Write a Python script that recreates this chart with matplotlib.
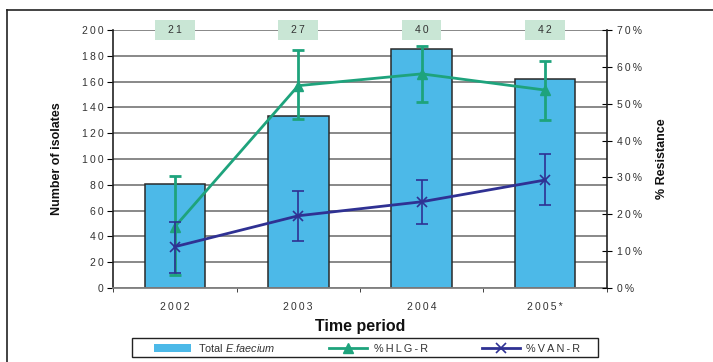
import matplotlib
matplotlib.use("Agg")
import matplotlib.pyplot as plt
from matplotlib.patches import Patch, Rectangle
from matplotlib.lines import Line2D
from matplotlib.ticker import MultipleLocator, FixedLocator
import numpy as np

plt.rcParams['font.family'] = ['Liberation Sans', 'DejaVu Sans']
plt.rcParams['mathtext.fontset'] = 'custom'
plt.rcParams['mathtext.it'] = 'Liberation Sans:italic'
plt.rcParams['mathtext.rm'] = 'Liberation Sans'

periods = ["2002", "2003", "2004", "2005*"]
n_labels = ["21", "27", "40", "42"]
total_isolates = [81, 133, 185, 162]
hlg = [16.6, 54.9, 58.1, 53.7]
hlg_hi = [30.4, 64.6, 65.7, 61.6]
hlg_lo = [3.6, 45.8, 50.5, 45.6]
van = [11.2, 19.6, 23.4, 29.3]
van_hi = [17.9, 26.3, 29.3, 36.4]
van_lo = [4.2, 12.8, 17.4, 22.4]

def spaced(s):
    return "\u2009".join(s)

BAR_C = "#4cb9e8"
HLG_C = "#1ea37c"
VAN_C = "#2f3193"
GRID_C = "#7f7f7f"

fig = plt.figure(figsize=(7.13, 3.62), dpi=100)
ax = fig.add_axes([0.1585, 0.2044, 0.6928, 0.7127])
ax2 = ax.twinx()

x = np.arange(len(periods))
ax.bar(x, total_isolates, width=0.49, color=BAR_C, edgecolor="#2a2a2a", linewidth=1.1, zorder=2)
ax.set_xlim(-0.5, len(periods) - 0.5)
ax.set_ylim(0, 200)
ax.yaxis.set_major_locator(MultipleLocator(20))
ax.set_axisbelow(True)
ax.grid(axis='y', color=GRID_C, linewidth=1.3, zorder=0)
ax.set_xticks(x)
ax.set_xticklabels([spaced(p) for p in periods], fontsize=7.5, color="#333333")
ax.xaxis.set_minor_locator(FixedLocator(np.arange(-0.5, len(periods), 1.0)))
ax.tick_params(axis='x', which='major', length=0, pad=10)
ax.tick_params(axis='x', which='minor', length=3, direction='out', color='#222222')
ax.tick_params(axis='y', length=4, direction='out', labelsize=7.5, labelcolor="#333333", pad=3)
ax.set_yticks(range(0, 201, 20))
ax.set_yticklabels([spaced(str(v)) for v in range(0, 201, 20)])
for s in ['top', 'right']:
    ax.spines[s].set_visible(False)
ax.spines['bottom'].set_color(GRID_C)
ax.spines['bottom'].set_linewidth(1.3)
ax.spines['left'].set_color('#222222')
ax.spines['left'].set_linewidth(1.2)

ax2.set_ylim(0, 70)
ax2.set_yticks(range(0, 71, 10))
ax2.set_yticklabels([spaced(f"{v}%") for v in range(0, 71, 10)])
ax2.tick_params(axis='y', length=7, direction='inout', labelsize=7.5, labelcolor="#333333", pad=4)
for s in ['top', 'left', 'bottom']:
    ax2.spines[s].set_visible(False)
ax2.spines['right'].set_color('#222222')
ax2.spines['right'].set_linewidth(1.2)

hlg_a = np.array(hlg); van_a = np.array(van)
ax2.errorbar(x, hlg_a, yerr=[hlg_a - np.array(hlg_lo), np.array(hlg_hi) - hlg_a],
             color=HLG_C, linewidth=2, elinewidth=2, capsize=4.3, capthick=2,
             marker='^', markersize=7, zorder=4)
ax2.errorbar(x, van_a, yerr=[van_a - np.array(van_lo), np.array(van_hi) - van_a],
             color=VAN_C, linewidth=2, elinewidth=1.2, capsize=4.3, capthick=1.2,
             marker='x', markersize=7, markeredgewidth=1.2, zorder=5)

# N boxes at top
for xi, lab in zip(x, n_labels):
    ax.add_patch(Rectangle((xi - 0.16, 200 - 7.7), 0.32, 15.4, transform=ax.transData,
                           facecolor="#c9e6d5", edgecolor='none', clip_on=False, zorder=6))
    ax.text(xi, 200, spaced(lab), ha='center', va='center', fontsize=7.5,
            color="#333333", zorder=7, clip_on=False)

ax.set_ylabel("Number of isolates", fontsize=9, fontweight='bold', color="#111111")
ax.yaxis.set_label_coords(-0.101, 0.5)
ax2.set_ylabel("% Resistance", fontsize=9, fontweight='bold', color="#111111")
ax2.yaxis.set_label_coords(1.099, 0.5)
ax.set_xlabel("Time period", fontsize=11.5, fontweight='bold', color="#111111")
ax.xaxis.set_label_coords(0.5, -0.12)

# legend with manual frame
fig.add_artist(Rectangle((132/713, 5/362), 466/713, 19/362, transform=fig.transFigure,
                         facecolor='white', edgecolor='#222222', linewidth=1.0))
handles = [Patch(facecolor=BAR_C, edgecolor='none'),
           Line2D([], [], color=HLG_C, linewidth=2, marker='^', markersize=7),
           Line2D([], [], color=VAN_C, linewidth=2, marker='x', markersize=7, markeredgewidth=1.2)]
labels = ["Total $\\it{E.\\!faecium}$", spaced("%HLG-R"), spaced("%VAN-R")]
leg = fig.legend(handles, labels, ncol=3, loc='center',
                 bbox_to_anchor=(367/713, 14.5/362),
                 fontsize=7.8, frameon=False,
                 handlelength=3.5, handletextpad=0.6, columnspacing=5.0)
for t in leg.get_texts():
    t.set_color("#333333")

# outer frame
fig.add_artist(Line2D([7/713, 7/713], [0, 1 - 10/362], transform=fig.transFigure, color='#222222', linewidth=1.2))
fig.add_artist(Line2D([7/713, 1], [1 - 10/362, 1 - 10/362], transform=fig.transFigure, color='#222222', linewidth=1.2))

fig.savefig("out.png", dpi=100)
